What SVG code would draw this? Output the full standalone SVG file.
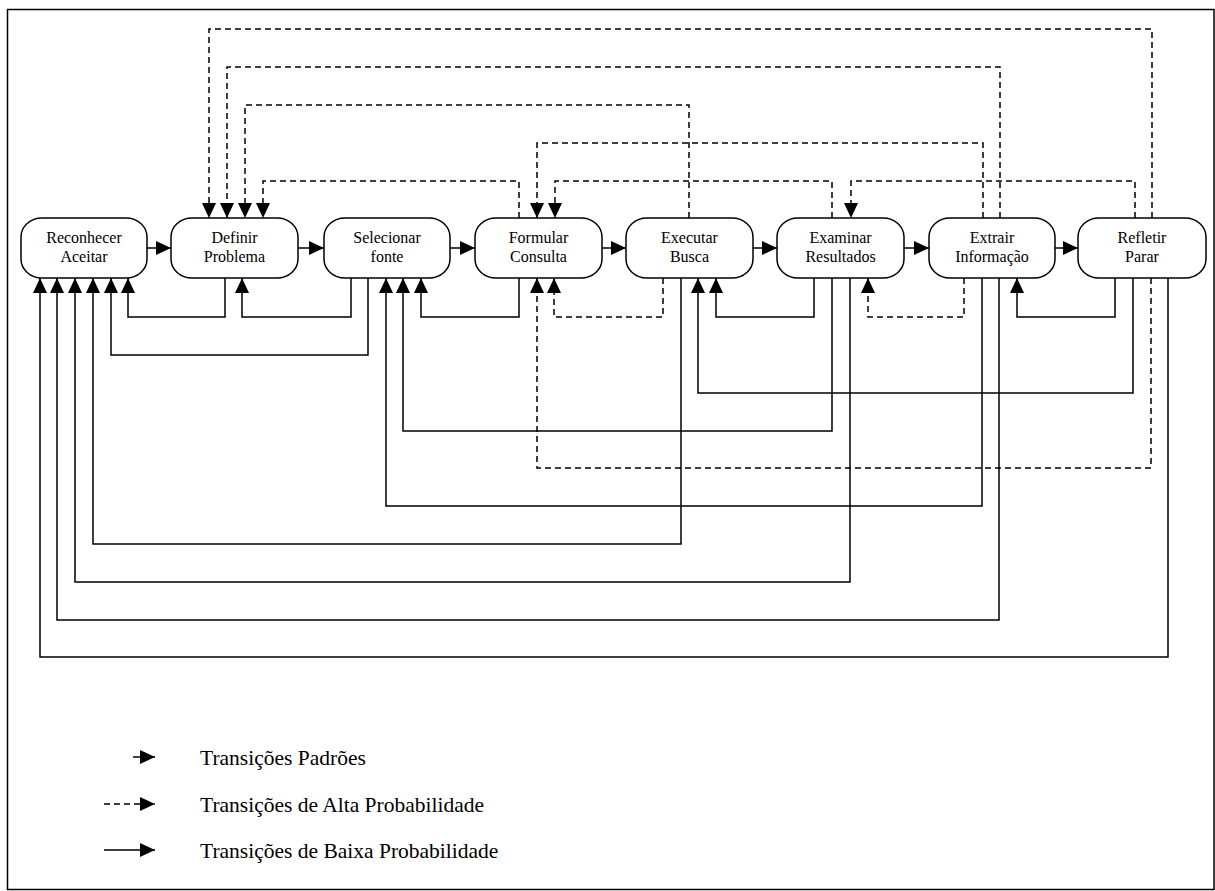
<svg xmlns="http://www.w3.org/2000/svg" width="1215" height="891" viewBox="0 0 1215 891">
<style>
.node rect{fill:#fff;stroke:#000;stroke-width:1.5}
.node text{font-family:"Liberation Serif","Times New Roman",serif;font-size:16px;text-anchor:middle;fill:#000}
.c{fill:none;stroke:#000;stroke-width:1.5}
.d{stroke-dasharray:6 4}
.leg{font-family:"Liberation Serif","Times New Roman",serif;font-size:21.5px;fill:#000}
</style>
<defs>
<marker id="ah" markerUnits="userSpaceOnUse" markerWidth="15" markerHeight="14" refX="15" refY="7" orient="auto">
<path d="M0,0 L15,7 L0,14 z" fill="#000"/>
</marker>
</defs>
<rect x="7.5" y="9.5" width="1206.5" height="880" fill="#fff" stroke="#000" stroke-width="1.5"/>
<g id="connectors">
<path class="c" marker-end="url(#ah)" d="M147,248 H171"/>
<path class="c" marker-end="url(#ah)" d="M298,248 H324"/>
<path class="c" marker-end="url(#ah)" d="M450,248 H475"/>
<path class="c" marker-end="url(#ah)" d="M602,248 H626"/>
<path class="c" marker-end="url(#ah)" d="M753,248 H777"/>
<path class="c" marker-end="url(#ah)" d="M904,248 H929"/>
<path class="c" marker-end="url(#ah)" d="M1055,248 H1078"/>
<path class="c d" marker-end="url(#ah)" d="M1152,218 V29 H209 V218"/>
<path class="c d" marker-end="url(#ah)" d="M1000,218 V67 H227 V218"/>
<path class="c d" marker-end="url(#ah)" d="M689,218 V105 H245 V218"/>
<path class="c d" marker-end="url(#ah)" d="M519,218 V181 H263 V218"/>
<path class="c d" marker-end="url(#ah)" d="M983,218 V143 H537 V218"/>
<path class="c d" marker-end="url(#ah)" d="M832,218 V181 H555 V218"/>
<path class="c d" marker-end="url(#ah)" d="M1135,218 V181 H851 V218"/>
<path class="c" marker-end="url(#ah)" d="M225,278 V317 H128 V278"/>
<path class="c" marker-end="url(#ah)" d="M351,278 V317 H242 V278"/>
<path class="c" marker-end="url(#ah)" d="M519,278 V317 H421 V278"/>
<path class="c d" marker-end="url(#ah)" d="M663,278 V317 H554 V278"/>
<path class="c" marker-end="url(#ah)" d="M814,278 V317 H716 V278"/>
<path class="c d" marker-end="url(#ah)" d="M964,278 V317 H868 V278"/>
<path class="c" marker-end="url(#ah)" d="M1115,278 V317 H1017 V278"/>
<path class="c" marker-end="url(#ah)" d="M368,278 V355 H111 V278"/>
<path class="c" marker-end="url(#ah)" d="M1133,278 V393 H698 V278"/>
<path class="c" marker-end="url(#ah)" d="M832,278 V431 H403 V278"/>
<path class="c d" marker-end="url(#ah)" d="M1151,278 V468 H537 V278"/>
<path class="c" marker-end="url(#ah)" d="M982,278 V506 H386 V278"/>
<path class="c" marker-end="url(#ah)" d="M681,278 V544 H93 V278"/>
<path class="c" marker-end="url(#ah)" d="M850,278 V582 H75 V278"/>
<path class="c" marker-end="url(#ah)" d="M999,278 V620 H57 V278"/>
<path class="c" marker-end="url(#ah)" d="M1168,278 V657 H40 V278"/>
</g>
<g id="n1" class="node"><rect x="21" y="218" width="126" height="60" rx="21" ry="19"/><text x="84" y="243">Reconhecer</text><text x="84" y="262">Aceitar</text></g>
<g id="n2" class="node"><rect x="171" y="218" width="127" height="60" rx="21" ry="19"/><text x="234.5" y="243">Definir</text><text x="234.5" y="262">Problema</text></g>
<g id="n3" class="node"><rect x="324" y="218" width="126" height="60" rx="21" ry="19"/><text x="387" y="243">Selecionar</text><text x="387" y="262">fonte</text></g>
<g id="n4" class="node"><rect x="475" y="218" width="127" height="60" rx="21" ry="19"/><text x="538.5" y="243">Formular</text><text x="538.5" y="262">Consulta</text></g>
<g id="n5" class="node"><rect x="626" y="218" width="127" height="60" rx="21" ry="19"/><text x="689.5" y="243">Executar</text><text x="689.5" y="262">Busca</text></g>
<g id="n6" class="node"><rect x="777" y="218" width="127" height="60" rx="21" ry="19"/><text x="840.5" y="243">Examinar</text><text x="840.5" y="262">Resultados</text></g>
<g id="n7" class="node"><rect x="929" y="218" width="126" height="60" rx="21" ry="19"/><text x="992" y="243">Extrair</text><text x="992" y="262">Informação</text></g>
<g id="n8" class="node"><rect x="1078" y="218" width="128" height="60" rx="21" ry="19"/><text x="1142" y="243">Refletir</text><text x="1142" y="262">Parar</text></g>
<g id="legend">
<path class="c" marker-end="url(#ah)" d="M133,757 H155"/>
<path class="c d" marker-end="url(#ah)" d="M104,804 H155"/>
<path class="c" marker-end="url(#ah)" d="M104,850 H155"/>
<text class="leg" x="200" y="765">Transições Padrões</text>
<text class="leg" x="200" y="812">Transições de Alta Probabilidade</text>
<text class="leg" x="200" y="858">Transições de Baixa Probabilidade</text>
</g>
</svg>
